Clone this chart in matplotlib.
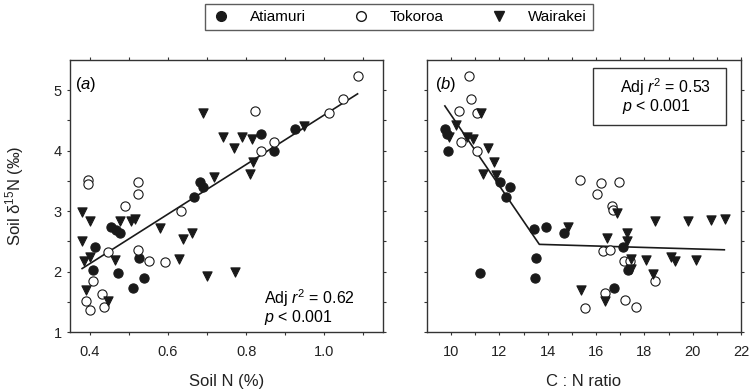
import matplotlib
matplotlib.use("Agg")
import matplotlib.pyplot as plt
from matplotlib.lines import Line2D
from matplotlib.patches import Rectangle
import numpy as np

plt.rcParams['font.family'] = ['Liberation Sans', 'DejaVu Sans']
plt.rcParams['mathtext.fontset'] = 'custom'
plt.rcParams['mathtext.it'] = 'Liberation Sans:italic'
plt.rcParams['mathtext.rm'] = 'Liberation Sans'

# ---- Panel (a): Soil N (%) vs soil d15N ----
tok_a_x = [1.085, 1.048, 1.013, 0.823, 0.871, 0.838, 0.396, 0.396, 0.525, 0.525, 0.491,
           0.634, 0.447, 0.525, 0.551, 0.594, 0.409, 0.390, 0.402, 0.432, 0.437]
tok_a_y = [5.24, 4.85, 4.63, 4.66, 4.14, 3.99, 3.51, 3.45, 3.48, 3.29, 3.08,
           3.01, 2.33, 2.36, 2.17, 2.16, 1.85, 1.52, 1.37, 1.63, 1.42]
ati_a_x = [0.838, 0.872, 0.925, 0.681, 0.691, 0.668, 0.454, 0.468, 0.477, 0.413,
           0.409, 0.472, 0.526, 0.539, 0.512]
ati_a_y = [4.28, 3.99, 4.36, 3.48, 3.40, 3.24, 2.74, 2.68, 2.63, 2.41,
           2.02, 1.97, 2.23, 1.90, 1.72]
wai_a_x = [0.691, 0.947, 0.742, 0.768, 0.790, 0.815, 0.819, 0.809, 0.717, 0.381,
           0.400, 0.477, 0.506, 0.515, 0.579, 0.380, 0.662, 0.638, 0.400, 0.387,
           0.466, 0.629, 0.700, 0.773, 0.392, 0.447]
wai_a_y = [4.63, 4.41, 4.22, 4.04, 4.23, 4.19, 3.81, 3.62, 3.57, 2.99,
           2.84, 2.83, 2.84, 2.87, 2.72, 2.50, 2.63, 2.54, 2.24, 2.18,
           2.19, 2.21, 1.92, 1.99, 1.69, 1.51]
fit_a_x = [0.381, 1.085]
fit_a_y = [2.05, 4.94]

# ---- Panel (b): C:N ratio vs soil d15N ----
tok_b_x = [10.73, 10.84, 10.32, 11.07, 10.39, 11.07, 15.35, 16.20, 16.04, 16.93, 16.65,
           16.68, 16.27, 16.56, 17.14, 17.41, 18.45, 16.35, 17.20, 15.55, 17.66]
tok_b_y = [5.24, 4.85, 4.66, 4.63, 4.14, 4.00, 3.51, 3.46, 3.29, 3.48, 3.09,
           3.02, 2.34, 2.35, 2.17, 2.17, 1.85, 1.64, 1.53, 1.39, 1.42]
ati_b_x = [9.74, 9.81, 9.86, 12.01, 12.45, 12.28, 13.42, 13.93, 14.68, 17.11,
           17.34, 13.53, 13.46, 11.21, 16.75]
ati_b_y = [4.36, 4.28, 4.00, 3.48, 3.40, 3.24, 2.71, 2.74, 2.63, 2.41,
           2.02, 2.22, 1.90, 1.97, 1.72]
wai_b_x = [11.24, 10.18, 9.90, 10.66, 10.91, 11.53, 11.79, 11.32, 11.84, 14.82,
           16.86, 18.45, 19.82, 20.75, 21.34, 16.46, 17.30, 17.30, 17.44, 18.06,
           19.09, 19.26, 20.14, 17.44, 18.36, 15.37, 16.38]
wai_b_y = [4.63, 4.43, 4.23, 4.23, 4.19, 4.04, 3.81, 3.62, 3.59, 2.73,
           2.97, 2.83, 2.83, 2.85, 2.87, 2.56, 2.63, 2.50, 2.21, 2.19,
           2.24, 2.18, 2.19, 2.05, 1.96, 1.69, 1.52]
fit_b_x = [9.74, 13.65, 21.31]
fit_b_y = [4.74, 2.45, 2.36]

series_labels = ["Atiamuri", "Tokoroa", "Wairakei"]
xlabels = ["Soil N (%)", "C : N ratio"]
ylabel = "Soil δ$^{15}$N (‰)"
stats_a = ["Adj $r^2$ = 0.62", "$p$ < 0.001"]
stats_b = ["Adj $r^2$ = 0.53", "$p$ < 0.001"]

W, H = 750, 392
fig = plt.figure(figsize=(7.5, 3.92), dpi=100)
axa = fig.add_axes([70 / W, 1 - 332 / H, (383 - 70) / W, (332 - 60) / H])
axb = fig.add_axes([427 / W, 1 - 332 / H, (741 - 427) / W, (332 - 60) / H])

dark = '#1a1a1a'
ms = 44
for ax, (tx, ty, ax_, ay, wx, wy, fx, fy) in zip(
        [axa, axb],
        [(tok_a_x, tok_a_y, ati_a_x, ati_a_y, wai_a_x, wai_a_y, fit_a_x, fit_a_y),
         (tok_b_x, tok_b_y, ati_b_x, ati_b_y, wai_b_x, wai_b_y, fit_b_x, fit_b_y)]):
    ax.plot(fx, fy, color=dark, lw=1.2, zorder=2)
    ax.scatter(ax_, ay, s=ms, marker='o', facecolor=dark, edgecolor=dark, lw=0.8, zorder=3)
    ax.scatter(tx, ty, s=ms, marker='o', facecolor='white', edgecolor=dark, lw=0.8, zorder=3)
    ax.scatter(wx, wy, s=ms, marker='v', facecolor=dark, edgecolor=dark, lw=0.8, zorder=3)
    ax.set_ylim(1, 5.5)
    ax.set_yticks([1, 2, 3, 4, 5])
    ax.set_yticks(np.arange(1.5, 5.5, 1.0), minor=True)
    for sp in ax.spines.values():
        sp.set_linewidth(1.0)
        sp.set_color('#333333')
    ax.tick_params(which='both', direction='out', length=2.5, width=0.8,
                   labelsize=10.5, colors='#333333', labelcolor='#222222')
    ax.tick_params(which='both', top=True, right=True)
    ax.xaxis.set_tick_params(which='both', pad=7)

axa.set_xlim(0.35, 1.15)
axa.set_xticks([0.4, 0.6, 0.8, 1.0])
axa.set_xticklabels(["0.4", "0.6", "0.8", "1.0"])
axa.set_xticks([0.5, 0.7, 0.9, 1.1], minor=True)
axb.set_xlim(9, 22)
axb.set_xticks([10, 12, 14, 16, 18, 20, 22])
axb.set_xticks([11, 13, 15, 17, 19, 21], minor=True)
axb.set_yticklabels([])

for ax, lab in zip([axa, axb], xlabels):
    ax.set_xlabel(lab, fontsize=12, color='#222222')
    ax.xaxis.set_label_coords(0.5, (332 - 374) / 272)
axa.set_ylabel(ylabel, fontsize=12, color='#222222')
axa.yaxis.set_label_coords((26 - 70) / 313, 0.5)

axa.text(0.017, 0.91, r"($a$)", transform=axa.transAxes, fontsize=12, va='center', ha='left')
axb.text(0.025, 0.91, r"($b$)", transform=axb.transAxes, fontsize=12, va='center', ha='left')

axa.text(0.62, 0.125, stats_a[0], transform=axa.transAxes, fontsize=11.5, va='center')
axa.text(0.62, 0.055, stats_a[1], transform=axa.transAxes, fontsize=11.5, va='center')

box = Rectangle(((593 - 427) / 314, 1 - (125 - 60) / 272), (726 - 593) / 314, (125 - 68) / 272,
                transform=axb.transAxes, facecolor='white', edgecolor='#333333', lw=1.0, zorder=4)
axb.add_patch(box)
axb.text((620 - 427) / 314, 1 - (87 - 60) / 272, stats_b[0], transform=axb.transAxes,
         fontsize=11.5, va='center', zorder=5)
axb.text((622 - 427) / 314, 1 - (106 - 60) / 272, stats_b[1], transform=axb.transAxes,
         fontsize=11.5, va='center', zorder=5)

handles = [
    Line2D([], [], ls='none', marker='o', ms=7, mfc=dark, mec=dark),
    Line2D([], [], ls='none', marker='o', ms=7, mfc='white', mec=dark),
    Line2D([], [], ls='none', marker='v', ms=7, mfc=dark, mec=dark),
]
leg = fig.legend(handles, series_labels, loc='center', bbox_to_anchor=(399 / W, 1 - 17 / H),
                 ncol=3, frameon=True, fancybox=False, fontsize=11, handletextpad=1.3,
                 columnspacing=3.0, borderpad=0.4, handlelength=1.2)
leg.get_frame().set_edgecolor('#333333')
leg.get_frame().set_linewidth(1.0)

fig.savefig("out.png", dpi=100)
